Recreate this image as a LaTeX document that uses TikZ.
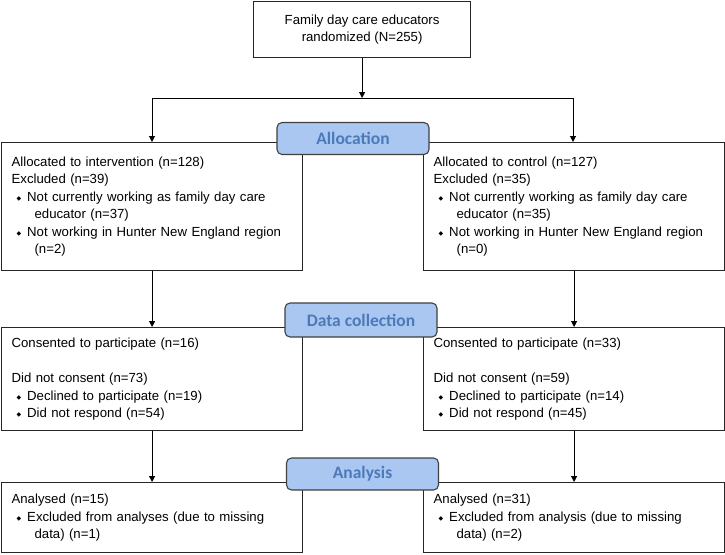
\documentclass[tikz,border=0pt]{standalone}
\usepackage{fontspec}
\setmainfont{Liberation Sans}
\newfontfamily\labfont{Carlito}
\newfontfamily\bulfont{DejaVu Sans}
\usetikzlibrary{arrows.meta}
\definecolor{labfill}{RGB}{170,199,242}
\definecolor{labtext}{RGB}{76,122,184}
\newcommand{\bul}{\hspace*{5pt}\raisebox{1pt}{\bulfont\fontsize{6}{6}\selectfont ◆}\hspace*{6pt}}
\newcommand{\cont}{\hspace*{23pt}}

\begin{document}
\begin{tikzpicture}[x=1pt, y=-1pt,
  font=\fontsize{13.2}{17.5}\selectfont,
  box/.style={draw=black!85, line width=1.2pt, anchor=north west, inner xsep=10pt, inner ysep=0pt,
    align=left, text width=281pt},
  stage/.style={draw=black!75, line width=1.1pt, fill=labfill, rounded corners=5pt, text=labtext,
    font=\labfont\bfseries\fontsize{17.5}{20}\selectfont, minimum width=152pt, minimum height=32pt, inner sep=0pt},
  arr/.style={-{Triangle[length=6pt,width=6pt]}, line width=1pt}]
\useasboundingbox (0,0) rectangle (725,554);
% top
\node[draw=black!85, line width=1.2pt, anchor=north west, minimum width=217pt, minimum height=56pt,
  align=center, font=\fontsize{13.2}{17}\selectfont] (rand) at (253,0.7) {Family day care educators\\randomized (N=255)};
\coordinate (fork) at (361,98);
\coordinate (forkL) at (152,98);
\coordinate (forkR) at (573,98);
% allocation
\node[box, minimum height=128pt] (allocL) at (1,142) {Allocated to intervention (n=128)\\
Excluded (n=39)\\
\bul Not currently working as family day care\\
\cont educator (n=37)\\
\bul Not working in Hunter New England region\\
\cont (n=2)};
\node[box, minimum height=128pt] (allocR) at (423,142) {Allocated to control (n=127)\\
Excluded (n=35)\\
\bul Not currently working as family day care\\
\cont educator (n=35)\\
\bul Not working in Hunter New England region\\
\cont (n=0)};
% data collection
\node[box, minimum height=103pt] (dataL) at (1,327) {Consented to participate (n=16)\\[17.5pt]
Did not consent (n=73)\\
\bul Declined to participate (n=19)\\
\bul Did not respond (n=54)};
\node[box, minimum height=103pt] (dataR) at (423,327) {Consented to participate (n=33)\\[17.5pt]
Did not consent (n=59)\\
\bul Declined to participate (n=14)\\
\bul Did not respond (n=45)};
% analysis
\node[box, minimum height=70pt] (anaL) at (1,482) {Analysed (n=15)\\
\bul Excluded from analyses (due to missing\\
\cont data) (n=1)};
\node[box, minimum height=70pt] (anaR) at (423,482) {Analysed (n=31)\\
\bul Excluded from analysis (due to missing\\
\cont data) (n=2)};
% connectors
\draw[arr] (rand.south) -- (rand.south |- fork);
\draw[line width=1pt] (forkL) -- (forkR);
\draw[arr] (forkL) -- (forkL |- allocL.north);
\draw[arr] (forkR) -- (forkR |- allocR.north);
\draw[arr] (allocL) -- (dataL);
\draw[arr] (allocR) -- (dataR);
\draw[arr] (dataL) -- (anaL);
\draw[arr] (dataR) -- (anaR);
% stage labels
\node[stage] (allocation) at (353,138.5) {Allocation};
\node[stage, minimum height=34pt] (collection) at (361,320) {Data collection};
\node[stage] (analysis) at (362.5,474) {Analysis};
\end{tikzpicture}
\end{document}
